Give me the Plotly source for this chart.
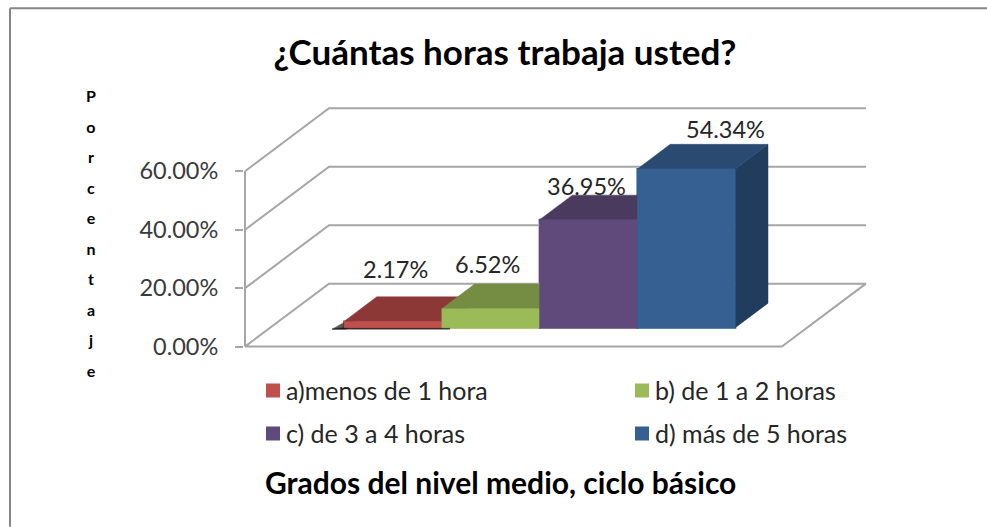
import plotly.graph_objects as go

# ---- data ----
categories = ["a)menos de 1 hora", "b) de 1 a 2 horas", "c) de 3 a 4 horas", "d) más de 5 horas"]
values = [2.17, 6.52, 36.95, 54.34]
y_ticks = [0, 20, 40, 60]
y_tick_labels = ["0.00%", "20.00%", "40.00%", "60.00%"]
title_text = "¿Cuántas horas trabaja usted?"
x_title_text = "Grados del nivel medio, ciclo básico"
y_title_text = "Porcentaje"

# ---- style ----
front_colors = ["#C0504D", "#9BBB59", "#604A7B", "#366092"]
top_colors = ["#8C3836", "#748D42", "#4A3A5E", "#2A4A72"]
side_colors = ["#6E2C2A", "#5C7035", "#3B2E4B", "#203D5E"]
label_shift = [(3, 52), (-3, 45), (-2, 34), (39, 40)]  # px from bar's front-top centre
FONT = "Lato"
GRID = "#A6A6A6"
W, H = 987, 527
M_L, M_R, M_T, M_B = 244, 117, 103.9, 175.9


def pap_x(px):
    return (px - M_L) / (W - M_L - M_R)


def pap_y(py):
    return 1 - (py - M_T) / (H - M_T - M_B)


# ---- oblique projection ----
PX_PER_X = 97.8          # px per bar width
PX_PER_V = 2.925         # px per percentage point
DX = 84 / PX_PER_X       # full depth in x units
DV = 63 / PX_PER_V       # full depth in value units
FLOOR_W = 5.49
GAP = (FLOOR_W - len(values)) / 2 + 0.01
D_FRONT, D_BACK = 0.30, 0.69


def proj(x, d, v):
    return x + d * DX, v + d * DV


def poly(points):
    pts = [proj(*p) for p in points] + [proj(*points[0])]
    return [p[0] for p in pts], [p[1] for p in pts]


fig = go.Figure()

# legend-bearing front faces, drawn with the library's bars
for i, (name, v) in enumerate(zip(categories, values)):
    fig.add_trace(go.Bar(
        x=[GAP + i + 0.5 + D_FRONT * DX], y=[v], base=[D_FRONT * DV], width=[1],
        name=name, marker=dict(color=front_colors[i], line=dict(color=front_colors[i], width=2)),
        legend="legend" if i == 0 else f"legend{i + 1}", hoverinfo="skip",
    ))


def add_line(xs, ys, width=2, color=GRID):
    fig.add_trace(go.Scatter(x=xs, y=ys, mode="lines", line=dict(color=color, width=width),
                             showlegend=False, hoverinfo="skip"))


def add_poly(points, color, opacity=1):
    xs, ys = poly(points)
    fig.add_trace(go.Scatter(x=xs, y=ys, mode="lines", fill="toself", fillcolor=color, opacity=opacity,
                             line=dict(color=color, width=0.5), showlegend=False, hoverinfo="skip"))


# value axis line, walls and gridlines
add_line([0, 0], [y_ticks[0], y_ticks[-1]])
for t in y_ticks[1:]:
    xs, ys = zip(*[proj(0, 0, t), proj(0, 1, t), proj(FLOOR_W, 1, t)])
    add_line(list(xs), list(ys))
# floor
xs, ys = zip(*[proj(0, 0, 0), proj(FLOOR_W, 0, 0), proj(FLOOR_W, 1, 0), proj(0, 1, 0), proj(0, 0, 0)])
add_line(list(xs), list(ys))

# soft shadow below and to the left of the lowest bar
sx = 12 / PX_PER_X
sv = 1.4 / PX_PER_V
add_poly([(GAP - sx, D_FRONT, -sv), (GAP + 1.08, D_FRONT, -sv), (GAP + 1.08, D_FRONT, 0), (GAP, D_FRONT, 0)],
         "#111111", 0.8)
add_poly([(GAP - sx, D_FRONT, -sv), (GAP + 0.02, D_FRONT, -sv), (GAP + 0.02, D_FRONT + 0.16, 0),
          (GAP - 0.05, D_FRONT + 0.16, 0)], "#111111", 0.7)
add_poly([(GAP - 0.03, D_FRONT + 0.14, 0), (GAP + 0.05, D_FRONT + 0.14, 0), (GAP + 0.05, D_FRONT + 0.36, 0),
          (GAP + 0.02, D_FRONT + 0.36, 0)], "#555555", 0.45)

# bars, back faces first
for i, v in enumerate(values):
    x0, x1 = GAP + i, GAP + i + 1
    add_poly([(x1, D_FRONT, 0), (x1, D_BACK, 0), (x1, D_BACK, v), (x1, D_FRONT, v)], side_colors[i])
    add_poly([(x0, D_FRONT, v), (x1, D_FRONT, v), (x1, D_BACK, v), (x0, D_BACK, v)], top_colors[i])
    add_poly([(x0, D_FRONT, 0), (x1, D_FRONT, 0), (x1, D_FRONT, v), (x0, D_FRONT, v)], front_colors[i])

# data labels
annotations = []
for i, v in enumerate(values):
    ax, ay = proj(GAP + i + 0.5, D_FRONT, v)
    annotations.append(dict(x=ax, y=ay, xref="x", yref="y", text=f"{v:.2f}%", showarrow=False,
                            xshift=label_shift[i][0], yshift=label_shift[i][1],
                            font=dict(family=FONT, size=23.5, color="#262626")))

# stacked axis title
stack = "<br>".join(f'<span style="font-size:16px"><b>{c}</b></span>' for c in y_title_text)
annotations.append(dict(x=pap_x(91), y=pap_y(233), xref="paper", yref="paper", text=stack, showarrow=False,
                        xanchor="center", yanchor="middle", align="center",
                        font=dict(family=FONT, size=23.5, color="#000000")))
# bottom title
annotations.append(dict(x=pap_x(500), y=pap_y(482), xref="paper", yref="paper", text=f"<b>{x_title_text}</b>",
                        showarrow=False, xanchor="center", yanchor="middle",
                        font=dict(family=FONT, size=30, color="#000000")))


def legend_at(px, py):
    return dict(x=pap_x(px), y=pap_y(py), xanchor="left", yanchor="middle", indentation=-14,
                bgcolor="rgba(0,0,0,0)", font=dict(family=FONT, size=25, color="#262626"), itemclick=False)


L_LEFT, L_RIGHT, L_R1, L_R2 = 260, 629, 391, 434

fig.update_layout(
    width=W, height=H, autosize=False, showlegend=True, barmode="overlay",
    paper_bgcolor="white", plot_bgcolor="white",
    margin=dict(l=M_L, r=M_R, t=M_T, b=M_B, pad=0, autoexpand=False),
    title=dict(text=f"<b>{title_text}</b>", x=505 / W, y=1 - 53 / H, xanchor="center", yanchor="middle",
               font=dict(family=FONT, size=35, color="#000000")),
    xaxis=dict(range=[-1 / PX_PER_X, 625 / PX_PER_X], visible=False, fixedrange=True),
    yaxis=dict(range=[-1.5, 83], tickmode="array", tickvals=y_ticks, ticktext=y_tick_labels, showgrid=False,
               zeroline=False, showline=False, ticks="outside", ticklen=8, tickwidth=2, tickcolor=GRID,
               ticklabelstandoff=12, tickfont=dict(family=FONT, size=23.5, color="#3a3a3a"), fixedrange=True),
    annotations=annotations,
    legend=legend_at(L_LEFT, L_R1),
    legend2=legend_at(L_RIGHT, L_R1),
    legend3=legend_at(L_LEFT, L_R2),
    legend4=legend_at(L_RIGHT, L_R2),
    shapes=[
        dict(type="line", xref="paper", yref="paper", x0=pap_x(10), x1=pap_x(W), y0=pap_y(8), y1=pap_y(8),
             line=dict(color="#868686", width=2)),
        dict(type="line", xref="paper", yref="paper", x0=pap_x(10), x1=pap_x(10), y0=pap_y(8), y1=pap_y(H),
             line=dict(color="#868686", width=2)),
    ],
)

post = (
    "document.body.style.margin='0';document.body.style.overflow='hidden';"
    "document.querySelectorAll('.legendsymbols').forEach(function(g){g.setAttribute('transform','translate(7,0)');});"
)
fig.write_html("out.html", config={"displayModeBar": False}, post_script=post)
